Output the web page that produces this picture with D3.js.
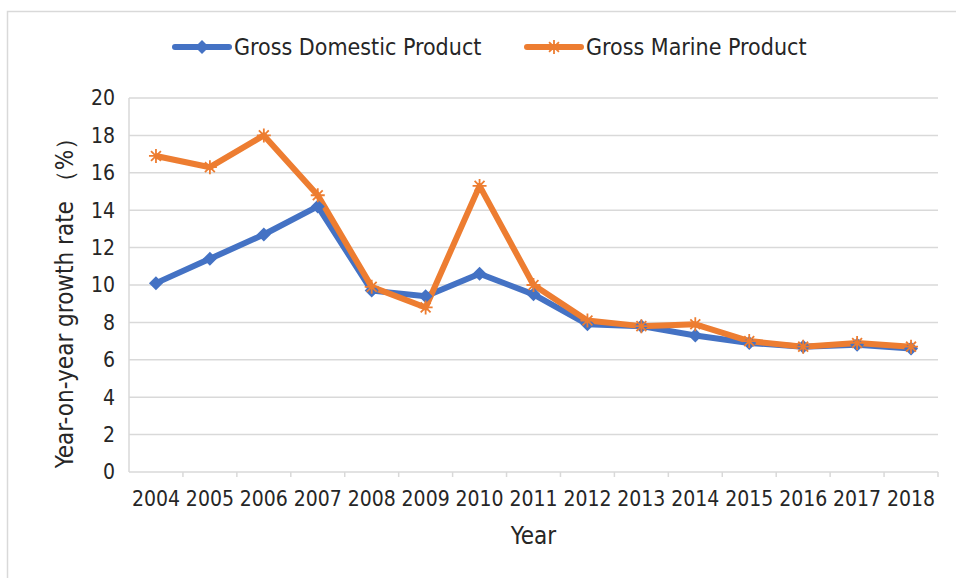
<!DOCTYPE html>
<html>
<head>
<meta charset="utf-8">
<script src="https://cdn.jsdelivr.net/npm/d3@7"></script>
<style>
  body { margin: 0; background: #fff; }
  text { font-family: "Liberation Sans Narrow", "DejaVu Sans Condensed", "Liberation Sans", sans-serif; fill: #262626; }
</style>
</head>
<body>
<script>
var years = ["2004", "2005", "2006", "2007", "2008", "2009", "2010", "2011", "2012", "2013", "2014", "2015", "2016", "2017", "2018"];
var gdp = [10.1, 11.4, 12.7, 14.2, 9.7, 9.4, 10.6, 9.5, 7.9, 7.8, 7.3, 6.9, 6.7, 6.8, 6.6];
var gmp = [16.9, 16.3, 18.0, 14.8, 9.9, 8.8, 15.3, 10.0, 8.1, 7.8, 7.9, 7.0, 6.7, 6.9, 6.7];
var yTicks = [0, 2, 4, 6, 8, 10, 12, 14, 16, 18, 20];
var seriesNames = ["Gross Domestic Product", "Gross Marine Product"];
var colors = ["#4472c4", "#ed7d31"];

var svgWidth = 956, svgHeight = 578;
var margin = { top: 98, right: 18, bottom: 106, left: 129 };
var width = svgWidth - margin.left - margin.right;
var height = svgHeight - margin.top - margin.bottom;

var svg = d3.select("body").append("svg")
  .attr("width", svgWidth)
  .attr("height", svgHeight);

// chart frame
svg.append("rect")
  .attr("x", 7.5).attr("y", 11.5)
  .attr("width", 1000).attr("height", 1000)
  .attr("fill", "none")
  .attr("stroke", "#d9d9d9")
  .attr("stroke-width", 1.5);

var chartGroup = svg.append("g")
  .attr("transform", `translate(${margin.left}, ${margin.top})`);

var x = d3.scaleBand().domain(years).range([0, width]);
var y = d3.scaleLinear().domain([0, 20]).range([height, 0]);

// gridlines
chartGroup.selectAll(".grid")
  .data(yTicks.slice(1))
  .enter()
  .append("line")
  .attr("x1", 0).attr("x2", width)
  .attr("y1", d => y(d)).attr("y2", d => y(d))
  .attr("stroke", "#d9d9d9")
  .attr("stroke-width", 1.5);

// left axis line
chartGroup.append("line")
  .attr("x1", 0).attr("x2", 0)
  .attr("y1", 0).attr("y2", height)
  .attr("stroke", "#d9d9d9").attr("stroke-width", 1.5);

// x axis
var xAxis = chartGroup.append("g")
  .attr("transform", `translate(0, ${height})`);
xAxis.append("line")
  .attr("x1", 0).attr("x2", width)
  .attr("stroke", "#d9d9d9").attr("stroke-width", 1.5);
xAxis.selectAll(".tick")
  .data(years.slice(1).concat(["end"]))
  .enter()
  .append("line")
  .attr("x1", d => d === "end" ? width : x(d))
  .attr("x2", d => d === "end" ? width : x(d))
  .attr("y1", 0).attr("y2", 5)
  .attr("stroke", "#d9d9d9").attr("stroke-width", 1.5);
xAxis.selectAll(".label")
  .data(years)
  .enter()
  .append("text")
  .attr("x", d => x(d) + x.bandwidth() / 2)
  .attr("y", 34)
  .attr("text-anchor", "middle")
  .style("font-size", "21px")
  .text(d => d);

// y tick labels
chartGroup.selectAll(".ylabel")
  .data(yTicks)
  .enter()
  .append("text")
  .attr("x", -14)
  .attr("y", d => y(d))
  .attr("dy", "0.35em")
  .attr("text-anchor", "end")
  .style("font-size", "21px")
  .text(d => d);

// axis titles
chartGroup.append("text")
  .attr("transform", `translate(-64, ${height / 2 + 12}) rotate(-90)`)
  .attr("text-anchor", "middle")
  .attr("dy", "0.35em")
  .style("font-size", "24px")
  .text("Year-on-year growth rate （%）");

chartGroup.append("text")
  .attr("x", width / 2)
  .attr("y", height + 72)
  .attr("text-anchor", "middle")
  .style("font-size", "24px")
  .text("Year");

// lines
var line = d3.line()
  .x((d, i) => x(years[i]) + x.bandwidth() / 2)
  .y(d => y(d));

var allSeries = [gdp, gmp];
allSeries.forEach(function(vals, s) {
  chartGroup.append("path")
    .datum(vals)
    .attr("fill", "none")
    .attr("stroke", colors[s])
    .attr("stroke-width", 6)
    .attr("stroke-linejoin", "round")
    .attr("d", line);
});

// markers
function diamond(g, cx, cy, color) {
  g.append("path")
    .attr("d", `M${cx},${cy - 7}L${cx + 7},${cy}L${cx},${cy + 7}L${cx - 7},${cy}Z`)
    .attr("fill", color);
}
function star(g, cx, cy, color) {
  var r = 7;
  var p = "";
  [0, 45, 90, 135].forEach(function(a) {
    var rad = a * Math.PI / 180;
    p += `M${cx - r * Math.cos(rad)},${cy - r * Math.sin(rad)}L${cx + r * Math.cos(rad)},${cy + r * Math.sin(rad)}`;
  });
  g.append("path").attr("d", p).attr("stroke", color).attr("stroke-width", 1.8).attr("fill", "none");
}

gdp.forEach(function(v, i) {
  diamond(chartGroup, x(years[i]) + x.bandwidth() / 2, y(v), colors[0]);
});
gmp.forEach(function(v, i) {
  star(chartGroup, x(years[i]) + x.bandwidth() / 2, y(v), colors[1]);
});

// legend
var legendX = [175, 527];
seriesNames.forEach(function(name, s) {
  var lg = svg.append("g").attr("transform", `translate(${legendX[s]}, 47)`);
  lg.append("line")
    .attr("x1", 0).attr("x2", 54)
    .attr("stroke", colors[s]).attr("stroke-width", 6)
    .attr("stroke-linecap", "round");
  if (s === 0) diamond(lg, 27, 0, colors[0]);
  else star(lg, 27, 0, colors[1]);
  lg.append("text")
    .attr("x", 59)
    .attr("dy", "0.35em")
    .style("font-size", "23px")
    .text(name);
});
</script>
</body>
</html>
